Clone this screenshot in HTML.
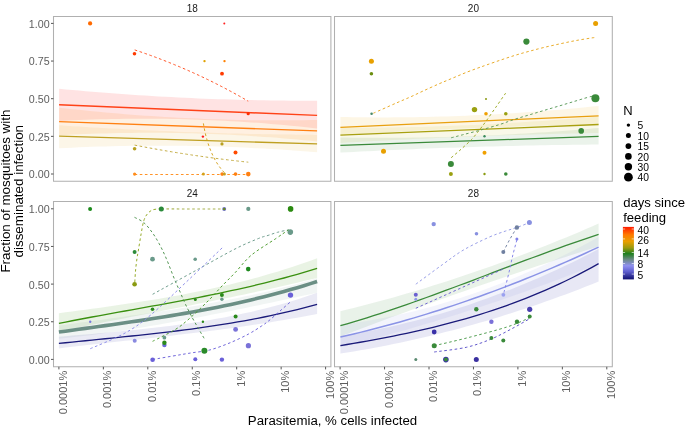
<!DOCTYPE html>
<html><head><meta charset="utf-8"><style>
html,body{margin:0;padding:0;background:#fff;width:685px;height:427px;overflow:hidden}
svg{display:block;filter:blur(0.25px)}
text{font-family:"Liberation Sans", sans-serif}
</style></head><body>
<svg width="685" height="427" viewBox="0 0 685 427">
<rect width="685" height="427" fill="#fff"/>
<polygon points="58.90,313.18 65.52,312.31 72.14,311.44 78.76,310.57 85.38,309.69 92.00,308.79 98.62,307.89 105.24,306.97 111.86,306.03 118.48,305.08 125.11,304.11 131.73,303.12 138.35,302.10 144.97,301.05 151.59,299.98 158.21,298.88 164.83,297.75 171.45,296.58 178.07,295.38 184.69,294.13 191.31,292.85 197.93,291.53 204.55,290.16 211.17,288.75 217.79,287.29 224.41,285.77 231.03,284.21 237.65,282.59 244.27,280.92 250.89,279.19 257.52,277.40 264.14,275.54 270.76,273.62 277.38,271.64 284.00,269.59 290.62,267.46 297.24,265.27 303.86,263.00 310.48,260.66 317.10,258.23 317.10,277.90 310.48,279.51 303.86,281.10 297.24,282.66 290.62,284.20 284.00,285.72 277.38,287.21 270.76,288.69 264.14,290.14 257.52,291.58 250.89,293.00 244.27,294.40 237.65,295.79 231.03,297.16 224.41,298.52 217.79,299.87 211.17,301.21 204.55,302.54 197.93,303.86 191.31,305.17 184.69,306.48 178.07,307.78 171.45,309.08 164.83,310.37 158.21,311.67 151.59,312.96 144.97,314.25 138.35,315.55 131.73,316.85 125.11,318.15 118.48,319.46 111.86,320.77 105.24,322.09 98.62,323.42 92.00,324.76 85.38,326.11 78.76,327.47 72.14,328.84 65.52,330.23 58.90,331.63" fill="#4a9a20" fill-opacity="0.12"/>
<polygon points="58.90,325.57 65.52,324.66 72.14,323.75 78.76,322.85 85.38,321.96 92.00,321.06 98.62,320.17 105.24,319.27 111.86,318.37 118.48,317.46 125.11,316.54 131.73,315.62 138.35,314.68 144.97,313.73 151.59,312.76 158.21,311.78 164.83,310.77 171.45,309.75 178.07,308.70 184.69,307.63 191.31,306.53 197.93,305.41 204.55,304.25 211.17,303.06 217.79,301.84 224.41,300.58 231.03,299.29 237.65,297.95 244.27,296.58 250.89,295.16 257.52,293.70 264.14,292.19 270.76,290.63 277.38,289.02 284.00,287.36 290.62,285.65 297.24,283.88 303.86,282.05 310.48,280.16 317.10,278.21 317.10,292.77 310.48,294.19 303.86,295.60 297.24,297.02 290.62,298.43 284.00,299.84 277.38,301.24 270.76,302.64 264.14,304.04 257.52,305.42 250.89,306.80 244.27,308.17 237.65,309.53 231.03,310.88 224.41,312.22 217.79,313.54 211.17,314.85 204.55,316.15 197.93,317.43 191.31,318.69 184.69,319.93 178.07,321.16 171.45,322.36 164.83,323.55 158.21,324.71 151.59,325.85 144.97,326.96 138.35,328.05 131.73,329.11 125.11,330.15 118.48,331.15 111.86,332.13 105.24,333.08 98.62,333.99 92.00,334.88 85.38,335.73 78.76,336.55 72.14,337.33 65.52,338.07 58.90,338.78" fill="#7a9a90" fill-opacity="0.1"/>
<polygon points="58.90,336.77 65.52,336.19 72.14,335.62 78.76,335.05 85.38,334.48 92.00,333.91 98.62,333.33 105.24,332.73 111.86,332.13 118.48,331.51 125.11,330.87 131.73,330.21 138.35,329.53 144.97,328.83 151.59,328.09 158.21,327.33 164.83,326.53 171.45,325.69 178.07,324.82 184.69,323.90 191.31,322.94 197.93,321.94 204.55,320.88 211.17,319.78 217.79,318.61 224.41,317.39 231.03,316.11 237.65,314.77 244.27,313.36 250.89,311.89 257.52,310.34 264.14,308.72 270.76,307.03 277.38,305.25 284.00,303.40 290.62,301.46 297.24,299.43 303.86,297.32 310.48,295.11 317.10,292.81 317.10,313.90 310.48,315.19 303.86,316.45 297.24,317.67 290.62,318.85 284.00,320.00 277.38,321.12 270.76,322.21 264.14,323.26 257.52,324.29 250.89,325.29 244.27,326.26 237.65,327.21 231.03,328.14 224.41,329.04 217.79,329.93 211.17,330.79 204.55,331.64 197.93,332.47 191.31,333.28 184.69,334.08 178.07,334.87 171.45,335.64 164.83,336.41 158.21,337.17 151.59,337.92 144.97,338.66 138.35,339.40 131.73,340.13 125.11,340.87 118.48,341.60 111.86,342.33 105.24,343.07 98.62,343.81 92.00,344.55 85.38,345.30 78.76,346.05 72.14,346.82 65.52,347.59 58.90,348.38" fill="#5050b0" fill-opacity="0.12"/>
<path d="M58.90,323.34 L65.52,322.03 L72.14,320.75 L78.76,319.49 L85.38,318.24 L92.00,317.01 L98.62,315.79 L105.24,314.58 L111.86,313.38 L118.48,312.19 L125.11,311.00 L131.73,309.81 L138.35,308.62 L144.97,307.43 L151.59,306.23 L158.21,305.03 L164.83,303.82 L171.45,302.60 L178.07,301.36 L184.69,300.11 L191.31,298.84 L197.93,297.55 L204.55,296.24 L211.17,294.90 L217.79,293.54 L224.41,292.15 L231.03,290.73 L237.65,289.28 L244.27,287.79 L250.89,286.26 L257.52,284.70 L264.14,283.09 L270.76,281.44 L277.38,279.74 L284.00,278.00 L290.62,276.20 L297.24,274.35 L303.86,272.45 L310.48,270.49 L317.10,268.47" fill="none" stroke="#3a9010" stroke-width="1.3"/>
<path d="M58.90,332.09 L65.52,331.16 L72.14,330.24 L78.76,329.32 L85.38,328.40 L92.00,327.48 L98.62,326.56 L105.24,325.63 L111.86,324.69 L118.48,323.75 L125.11,322.80 L131.73,321.83 L138.35,320.85 L144.97,319.85 L151.59,318.83 L158.21,317.79 L164.83,316.73 L171.45,315.64 L178.07,314.53 L184.69,313.39 L191.31,312.22 L197.93,311.01 L204.55,309.77 L211.17,308.50 L217.79,307.18 L224.41,305.83 L231.03,304.43 L237.65,302.98 L244.27,301.49 L250.89,299.96 L257.52,298.37 L264.14,296.73 L270.76,295.03 L277.38,293.28 L284.00,291.47 L290.62,289.59 L297.24,287.66 L303.86,285.66 L310.48,283.60 L317.10,281.46" fill="none" stroke="#6b8f85" stroke-width="3.6"/>
<path d="M58.90,343.44 L65.52,342.75 L72.14,342.07 L78.76,341.40 L85.38,340.73 L92.00,340.06 L98.62,339.40 L105.24,338.73 L111.86,338.07 L118.48,337.39 L125.11,336.71 L131.73,336.02 L138.35,335.32 L144.97,334.60 L151.59,333.87 L158.21,333.12 L164.83,332.35 L171.45,331.56 L178.07,330.74 L184.69,329.90 L191.31,329.03 L197.93,328.13 L204.55,327.20 L211.17,326.23 L217.79,325.23 L224.41,324.19 L231.03,323.10 L237.65,321.98 L244.27,320.81 L250.89,319.59 L257.52,318.32 L264.14,317.00 L270.76,315.63 L277.38,314.21 L284.00,312.72 L290.62,311.18 L297.24,309.58 L303.86,307.91 L310.48,306.18 L317.10,304.38" fill="none" stroke="#1a1a7a" stroke-width="1.3"/>
<path d="M134.80,282.00 C134.93,280.00 135.23,273.95 135.60,270.00 C135.97,266.05 136.57,261.40 137.00,258.30 C137.43,255.20 137.55,255.27 138.20,251.40 C138.85,247.53 139.98,240.15 140.90,235.10 C141.82,230.05 142.65,224.60 143.70,221.10 C144.75,217.60 145.80,215.93 147.20,214.10 C148.60,212.27 150.23,210.97 152.10,210.10 C153.97,209.23 156.87,209.10 158.40,208.90 C159.93,208.70 160.82,208.90 161.30,208.90" fill="none" stroke="#8fa61e" stroke-width="0.95" stroke-dasharray="2.6 2.55"/>
<path d="M161.3,208.9 L224.2,209" fill="none" stroke="#c5cc8a" stroke-width="1.6" stroke-dasharray="2.6 2.55"/>
<path d="M134.50,217.30 C136.03,218.17 140.77,220.00 143.70,222.50 C146.63,225.00 149.53,228.78 152.10,232.30 C154.67,235.82 156.75,239.27 159.10,243.60 C161.45,247.93 163.62,252.32 166.20,258.30 C168.78,264.28 172.27,273.85 174.60,279.50 C176.93,285.15 178.45,288.20 180.20,292.20 C181.95,296.20 183.15,299.37 185.10,303.50 C187.05,307.63 189.65,312.78 191.90,317.00 C194.15,321.22 196.50,325.13 198.60,328.80 C200.70,332.47 203.52,337.30 204.50,339.00" fill="none" stroke="#4a8f4a" stroke-width="0.95" stroke-dasharray="2.6 2.55"/>
<path d="M152.60,294.30 C159.50,290.50 180.27,279.05 194.00,271.50 C207.73,263.95 224.22,254.52 235.00,249.00 C245.78,243.48 253.18,240.67 258.70,238.40 C264.22,236.13 264.97,236.42 268.10,235.40 C271.23,234.38 274.10,233.23 277.50,232.30 C280.90,231.37 286.67,230.22 288.50,229.80" fill="none" stroke="#6a9a8a" stroke-width="0.95" stroke-dasharray="2.6 2.55"/>
<path d="M90.30,348.70 C95.92,346.18 114.05,339.12 124.00,333.60 C133.95,328.08 139.00,324.78 150.00,315.60 C161.00,306.42 177.73,290.02 190.00,278.50 C202.27,266.98 218.00,251.83 223.60,246.50" fill="none" stroke="#8a8ae8" stroke-width="0.95" stroke-dasharray="2.6 2.55"/>
<path d="M152.60,341.30 C156.33,339.37 169.13,333.25 175.00,329.70 C180.87,326.15 183.30,323.80 187.80,320.00 C192.30,316.20 197.95,310.77 202.00,306.90 C206.05,303.03 208.77,300.28 212.10,296.80 C215.43,293.32 218.18,290.00 222.00,286.00 C225.82,282.00 230.12,277.93 235.00,272.80 C239.88,267.67 244.50,260.90 251.30,255.20 C258.10,249.50 269.60,242.83 275.80,238.60 C282.00,234.37 286.38,231.27 288.50,229.80" fill="none" stroke="#4a9a2a" stroke-width="0.95" stroke-dasharray="2.6 2.55"/>
<path d="M152.60,359.50 C156.97,358.75 172.25,356.12 178.80,355.00 C185.35,353.88 186.70,353.65 191.90,352.80 C197.10,351.95 203.65,351.57 210.00,349.90 C216.35,348.23 223.60,345.43 230.00,342.80 C236.40,340.17 243.18,336.87 248.40,334.10 C253.62,331.33 257.87,328.45 261.30,326.20 C264.73,323.95 265.88,323.13 269.00,320.60 C272.12,318.07 276.42,314.13 280.00,311.00 C283.58,307.87 288.75,303.33 290.50,301.80" fill="none" stroke="#6a60d8" stroke-width="0.95" stroke-dasharray="2.6 2.55"/>
<circle cx="90.1" cy="208.9" r="2.0" fill="#1a8a1a"/>
<circle cx="161.3" cy="208.9" r="2.5" fill="#2a8a3a"/>
<circle cx="224.2" cy="209" r="2.0" fill="#7070d0"/>
<circle cx="224.2" cy="209" r="1.3" fill="#6a8a20"/>
<circle cx="248.3" cy="208.9" r="2.1" fill="#6a9a8a"/>
<circle cx="290.6" cy="208.9" r="2.8" fill="#2a8a10"/>
<circle cx="290.3" cy="232.1" r="2.8" fill="#6a9a8a"/>
<circle cx="134.6" cy="251.9" r="2.0" fill="#2e8b3a"/>
<circle cx="152.5" cy="259.2" r="2.4" fill="#6a9a8a"/>
<circle cx="195.2" cy="259.3" r="1.8" fill="#6a9a8a"/>
<circle cx="248.2" cy="269.1" r="2.3" fill="#1e8a1e"/>
<circle cx="134.6" cy="284.2" r="2.3" fill="#8a9a10"/>
<circle cx="90.2" cy="321.8" r="1.2" fill="#7a7ae0"/>
<circle cx="134.7" cy="340.7" r="2.0" fill="#8a8ae0"/>
<circle cx="152.5" cy="309.2" r="1.8" fill="#2a8a1a"/>
<circle cx="164.4" cy="345.1" r="2.2" fill="#6a6ad8"/>
<circle cx="164.4" cy="337.7" r="1.9" fill="#6a9a8a"/>
<circle cx="164.4" cy="342.8" r="2.2" fill="#2a8a1a"/>
<circle cx="152.6" cy="359.7" r="2.3" fill="#6a60d8"/>
<circle cx="195.3" cy="299.5" r="1.5" fill="#2a8a1a"/>
<circle cx="202.9" cy="321.7" r="1.2" fill="#2a8a1a"/>
<circle cx="204.4" cy="350.8" r="3.0" fill="#2a8a2a"/>
<circle cx="195.3" cy="359.3" r="2.0" fill="#6a60d8"/>
<circle cx="221.9" cy="294.9" r="2.0" fill="#2a8a1a"/>
<circle cx="221.9" cy="299.3" r="1.7" fill="#6a9a8a"/>
<circle cx="235.6" cy="316.5" r="2.0" fill="#2a8a1a"/>
<circle cx="235.6" cy="329.4" r="2.4" fill="#7a72d8"/>
<circle cx="248.4" cy="345.7" r="2.6" fill="#7a72d8"/>
<circle cx="290.5" cy="295.1" r="2.7" fill="#6a60d8"/>
<circle cx="221.9" cy="359.6" r="2.2" fill="#6a60d8"/>
<polygon points="340.40,311.22 347.02,309.61 353.64,307.96 360.26,306.28 366.88,304.56 373.50,302.82 380.12,301.04 386.74,299.22 393.36,297.38 399.98,295.50 406.61,293.58 413.23,291.64 419.85,289.66 426.47,287.64 433.09,285.59 439.71,283.51 446.33,281.40 452.95,279.25 459.57,277.07 466.19,274.86 472.81,272.61 479.43,270.33 486.05,268.02 492.67,265.67 499.29,263.29 505.91,260.88 512.53,258.43 519.15,255.95 525.77,253.44 532.39,250.89 539.02,248.31 545.64,245.70 552.26,243.05 558.88,240.37 565.50,237.65 572.12,234.91 578.74,232.13 585.36,229.31 591.98,226.47 598.60,223.59 598.60,246.29 591.98,248.39 585.36,250.50 578.74,252.63 572.12,254.77 565.50,256.91 558.88,259.07 552.26,261.24 545.64,263.42 539.02,265.61 532.39,267.81 525.77,270.02 519.15,272.25 512.53,274.48 505.91,276.73 499.29,278.98 492.67,281.25 486.05,283.53 479.43,285.82 472.81,288.12 466.19,290.43 459.57,292.76 452.95,295.09 446.33,297.43 439.71,299.79 433.09,302.16 426.47,304.53 419.85,306.92 413.23,309.32 406.61,311.73 399.98,314.16 393.36,316.59 386.74,319.03 380.12,321.49 373.50,323.95 366.88,326.43 360.26,328.92 353.64,331.42 347.02,333.93 340.40,336.45" fill="#3a8a3a" fill-opacity="0.11"/>
<polygon points="340.40,324.90 347.02,324.03 353.64,323.10 360.26,322.09 366.88,321.00 373.50,319.85 380.12,318.62 386.74,317.32 393.36,315.94 399.98,314.49 406.61,312.97 413.23,311.38 419.85,309.71 426.47,307.97 433.09,306.15 439.71,304.27 446.33,302.31 452.95,300.27 459.57,298.17 466.19,295.99 472.81,293.74 479.43,291.41 486.05,289.01 492.67,286.54 499.29,283.99 505.91,281.38 512.53,278.69 519.15,275.92 525.77,273.08 532.39,270.17 539.02,267.19 545.64,264.13 552.26,261.01 558.88,257.80 565.50,254.53 572.12,251.18 578.74,247.76 585.36,244.26 591.98,240.69 598.60,237.05 598.60,263.76 591.98,266.41 585.36,269.02 578.74,271.62 572.12,274.18 565.50,276.72 558.88,279.23 552.26,281.71 545.64,284.17 539.02,286.60 532.39,289.01 525.77,291.38 519.15,293.73 512.53,296.06 505.91,298.36 499.29,300.63 492.67,302.87 486.05,305.09 479.43,307.28 472.81,309.45 466.19,311.59 459.57,313.70 452.95,315.78 446.33,317.84 439.71,319.87 433.09,321.88 426.47,323.86 419.85,325.81 413.23,327.73 406.61,329.63 399.98,331.50 393.36,333.35 386.74,335.17 380.12,336.96 373.50,338.73 366.88,340.47 360.26,342.18 353.64,343.86 347.02,345.52 340.40,347.16" fill="#8890e0" fill-opacity="0.1"/>
<polygon points="340.40,335.95 347.02,334.93 353.64,333.84 360.26,332.68 366.88,331.47 373.50,330.19 380.12,328.84 386.74,327.44 393.36,325.97 399.98,324.44 406.61,322.84 413.23,321.18 419.85,319.46 426.47,317.67 433.09,315.83 439.71,313.91 446.33,311.94 452.95,309.90 459.57,307.80 466.19,305.64 472.81,303.41 479.43,301.12 486.05,298.76 492.67,296.35 499.29,293.86 505.91,291.32 512.53,288.71 519.15,286.04 525.77,283.31 532.39,280.51 539.02,277.65 545.64,274.73 552.26,271.74 558.88,268.69 565.50,265.58 572.12,262.41 578.74,259.17 585.36,255.86 591.98,252.50 598.60,249.07 598.60,281.56 591.98,284.22 585.36,286.83 578.74,289.40 572.12,291.92 565.50,294.41 558.88,296.85 552.26,299.25 545.64,301.61 539.02,303.92 532.39,306.19 525.77,308.42 519.15,310.61 512.53,312.76 505.91,314.86 499.29,316.92 492.67,318.93 486.05,320.91 479.43,322.84 472.81,324.73 466.19,326.57 459.57,328.38 452.95,330.14 446.33,331.86 439.71,333.53 433.09,335.17 426.47,336.76 419.85,338.30 413.23,339.81 406.61,341.27 399.98,342.69 393.36,344.07 386.74,345.41 380.12,346.70 373.50,347.95 366.88,349.16 360.26,350.32 353.64,351.44 347.02,352.52 340.40,353.56" fill="#5050b0" fill-opacity="0.13"/>
<path d="M340.40,325.67 L347.02,323.78 L353.64,321.83 L360.26,319.83 L366.88,317.78 L373.50,315.68 L380.12,313.54 L386.74,311.35 L393.36,309.13 L399.98,306.87 L406.61,304.57 L413.23,302.24 L419.85,299.89 L426.47,297.50 L433.09,295.09 L439.71,292.66 L446.33,290.21 L452.95,287.75 L459.57,285.26 L466.19,282.77 L472.81,280.27 L479.43,277.76 L486.05,275.25 L492.67,272.73 L499.29,270.22 L505.91,267.71 L512.53,265.21 L519.15,262.71 L525.77,260.23 L532.39,257.76 L539.02,255.30 L545.64,252.86 L552.26,250.45 L558.88,248.06 L565.50,245.70 L572.12,243.36 L578.74,241.06 L585.36,238.79 L591.98,236.55 L598.60,234.36" fill="none" stroke="#3a8a3a" stroke-width="1.3"/>
<path d="M340.40,336.98 L347.02,335.49 L353.64,333.95 L360.26,332.36 L366.88,330.73 L373.50,329.06 L380.12,327.34 L386.74,325.58 L393.36,323.78 L399.98,321.94 L406.61,320.05 L413.23,318.11 L419.85,316.14 L426.47,314.12 L433.09,312.06 L439.71,309.96 L446.33,307.81 L452.95,305.63 L459.57,303.40 L466.19,301.13 L472.81,298.81 L479.43,296.46 L486.05,294.06 L492.67,291.62 L499.29,289.15 L505.91,286.63 L512.53,284.06 L519.15,281.46 L525.77,278.82 L532.39,276.14 L539.02,273.41 L545.64,270.65 L552.26,267.84 L558.88,265.00 L565.50,262.11 L572.12,259.19 L578.74,256.22 L585.36,253.22 L591.98,250.17 L598.60,247.09" fill="none" stroke="#8a93e6" stroke-width="1.5"/>
<path d="M340.40,345.61 L347.02,344.51 L353.64,343.38 L360.26,342.24 L366.88,341.06 L373.50,339.86 L380.12,338.62 L386.74,337.35 L393.36,336.05 L399.98,334.70 L406.61,333.32 L413.23,331.88 L419.85,330.41 L426.47,328.88 L433.09,327.30 L439.71,325.66 L446.33,323.97 L452.95,322.22 L459.57,320.41 L466.19,318.54 L472.81,316.59 L479.43,314.58 L486.05,312.50 L492.67,310.34 L499.29,308.10 L505.91,305.79 L512.53,303.40 L519.15,300.92 L525.77,298.35 L532.39,295.69 L539.02,292.95 L545.64,290.11 L552.26,287.17 L558.88,284.13 L565.50,280.99 L572.12,277.75 L578.74,274.40 L585.36,270.94 L591.98,267.37 L598.60,263.69" fill="none" stroke="#1a1a7a" stroke-width="1.3"/>
<path d="M415.80,284.20 C420.20,280.97 434.28,270.48 442.20,264.80 C450.12,259.12 455.57,254.67 463.30,250.10 C471.03,245.53 481.58,240.57 488.60,237.40 C495.62,234.23 500.68,232.75 505.40,231.10 C510.12,229.45 512.90,228.92 516.90,227.50 C520.90,226.08 527.32,223.42 529.40,222.60" fill="none" stroke="#939ae6" stroke-width="0.95" stroke-dasharray="2.6 2.55"/>
<path d="M503.30,251.90 C504.42,249.75 507.73,243.07 510.00,239.00 C512.27,234.93 515.75,229.42 516.90,227.50" fill="none" stroke="#7080a0" stroke-width="0.95" stroke-dasharray="2.6 2.55"/>
<path d="M516.90,239.90 C516.23,242.38 514.23,249.32 512.90,254.80 C511.57,260.28 510.40,266.48 508.90,272.80 C507.40,279.12 504.73,289.38 503.90,292.70" fill="none" stroke="#8080e8" stroke-width="0.95" stroke-dasharray="2.6 2.55"/>
<path d="M415.8,308.3 L503.3,269" fill="none" stroke="#6a60d0" stroke-width="0.95" stroke-dasharray="2.6 2.55"/>
<path d="M434.20,345.70 C439.55,344.43 454.13,341.23 466.30,338.10 C478.47,334.97 496.63,330.30 507.20,326.90 C517.77,323.50 525.95,319.23 529.70,317.70" fill="none" stroke="#4a9a4a" stroke-width="0.95" stroke-dasharray="2.6 2.55"/>
<path d="M434.20,352.00 C439.55,351.22 456.87,349.43 466.30,347.30 C475.73,345.17 483.30,342.25 490.80,339.20 C498.30,336.15 504.82,332.42 511.30,329.00 C517.78,325.58 526.63,320.42 529.70,318.70" fill="none" stroke="#5a50c8" stroke-width="0.95" stroke-dasharray="2.6 2.55"/>
<circle cx="433.7" cy="224.1" r="2.2" fill="#8890e0"/>
<circle cx="476.5" cy="233.8" r="1.8" fill="#8890e0"/>
<circle cx="516.9" cy="227.5" r="2.2" fill="#7080a0"/>
<circle cx="529.4" cy="222.6" r="2.5" fill="#8890e0"/>
<circle cx="503.3" cy="251.9" r="2.0" fill="#7080a0"/>
<circle cx="516.9" cy="238.9" r="1.5" fill="#8080e8"/>
<circle cx="415.8" cy="294.8" r="2.0" fill="#6a60d0"/>
<circle cx="415.8" cy="299.3" r="1.5" fill="#9098e8"/>
<circle cx="503.4" cy="294.8" r="1.9" fill="#9aa0f0"/>
<circle cx="476.3" cy="309.3" r="2.2" fill="#3a8a3a"/>
<circle cx="529.7" cy="309.3" r="2.6" fill="#4a40b0"/>
<circle cx="529.7" cy="316.5" r="2.0" fill="#3a8a3a"/>
<circle cx="491.4" cy="321.8" r="2.2" fill="#7a70d8"/>
<circle cx="517" cy="321.8" r="2.2" fill="#3a8a3a"/>
<circle cx="434.2" cy="332" r="2.4" fill="#3a30a8"/>
<circle cx="491.4" cy="338.1" r="2.0" fill="#3a8a3a"/>
<circle cx="503.3" cy="340.6" r="2.0" fill="#3a8a3a"/>
<circle cx="434.2" cy="345.7" r="2.5" fill="#3a8a3a"/>
<circle cx="415.8" cy="359.6" r="1.5" fill="#5a8a70"/>
<circle cx="445.9" cy="359.6" r="2.8" fill="#3a30a8"/>
<circle cx="445.9" cy="359.6" r="2.0" fill="#3a8a3a"/>
<circle cx="476.3" cy="359.6" r="2.5" fill="#3a30a0"/>
<polygon points="59.10,88.80 65.72,89.42 72.33,90.03 78.95,90.62 85.56,91.19 92.18,91.75 98.79,92.29 105.41,92.81 112.02,93.32 118.64,93.81 125.25,94.28 131.87,94.74 138.48,95.18 145.10,95.60 151.72,96.01 158.33,96.39 164.95,96.77 171.56,97.12 178.18,97.46 184.79,97.78 191.41,98.09 198.02,98.38 204.64,98.65 211.25,98.90 217.87,99.14 224.48,99.36 231.10,99.57 237.72,99.75 244.33,99.93 250.95,100.08 257.56,100.22 264.18,100.34 270.79,100.44 277.41,100.53 284.02,100.60 290.64,100.65 297.25,100.69 303.87,100.71 310.48,100.71 317.10,100.70 317.10,128.40 310.48,127.67 303.87,126.97 297.25,126.30 290.64,125.66 284.02,125.05 277.41,124.46 270.79,123.90 264.18,123.37 257.56,122.87 250.95,122.40 244.33,121.96 237.72,121.54 231.10,121.15 224.48,120.79 217.87,120.46 211.25,120.16 204.64,119.88 198.02,119.64 191.41,119.42 184.79,119.23 178.18,119.07 171.56,118.93 164.95,118.83 158.33,118.75 151.72,118.70 145.10,118.68 138.48,118.69 131.87,118.73 125.25,118.79 118.64,118.89 112.02,119.01 105.41,119.16 98.79,119.34 92.18,119.54 85.56,119.78 78.95,120.04 72.33,120.33 65.72,120.65 59.10,121.00" fill="#ff1a1a" fill-opacity="0.12"/>
<polygon points="59.10,107.70 65.72,108.45 72.33,109.17 78.95,109.87 85.56,110.55 92.18,111.21 98.79,111.84 105.41,112.45 112.02,113.04 118.64,113.61 125.25,114.15 131.87,114.67 138.48,115.16 145.10,115.64 151.72,116.09 158.33,116.52 164.95,116.93 171.56,117.31 178.18,117.67 184.79,118.01 191.41,118.32 198.02,118.62 204.64,118.89 211.25,119.13 217.87,119.36 224.48,119.56 231.10,119.74 237.72,119.90 244.33,120.03 250.95,120.14 257.56,120.23 264.18,120.29 270.79,120.34 277.41,120.36 284.02,120.35 290.64,120.33 297.25,120.28 303.87,120.21 310.48,120.12 317.10,120.00 317.10,141.50 310.48,140.83 303.87,140.18 297.25,139.56 290.64,138.97 284.02,138.41 277.41,137.87 270.79,137.36 264.18,136.88 257.56,136.42 250.95,135.99 244.33,135.59 237.72,135.21 231.10,134.87 224.48,134.54 217.87,134.25 211.25,133.98 204.64,133.74 198.02,133.53 191.41,133.34 184.79,133.19 178.18,133.05 171.56,132.95 164.95,132.87 158.33,132.82 151.72,132.80 145.10,132.80 138.48,132.83 131.87,132.89 125.25,132.97 118.64,133.08 112.02,133.22 105.41,133.39 98.79,133.58 92.18,133.80 85.56,134.04 78.95,134.32 72.33,134.62 65.72,134.95 59.10,135.30" fill="#ff8c1a" fill-opacity="0.13"/>
<polygon points="59.10,125.30 65.72,125.74 72.33,126.16 78.95,126.58 85.56,126.99 92.18,127.38 98.79,127.77 105.41,128.15 112.02,128.51 118.64,128.87 125.25,129.22 131.87,129.55 138.48,129.88 145.10,130.20 151.72,130.50 158.33,130.80 164.95,131.08 171.56,131.36 178.18,131.63 184.79,131.88 191.41,132.13 198.02,132.37 204.64,132.59 211.25,132.81 217.87,133.01 224.48,133.21 231.10,133.40 237.72,133.57 244.33,133.74 250.95,133.89 257.56,134.04 264.18,134.17 270.79,134.30 277.41,134.42 284.02,134.52 290.64,134.62 297.25,134.70 303.87,134.78 310.48,134.84 317.10,134.90 317.10,152.30 310.48,151.75 303.87,151.23 297.25,150.73 290.64,150.25 284.02,149.80 277.41,149.37 270.79,148.96 264.18,148.58 257.56,148.22 250.95,147.89 244.33,147.57 237.72,147.28 231.10,147.02 224.48,146.77 217.87,146.56 211.25,146.36 204.64,146.19 198.02,146.04 191.41,145.91 184.79,145.81 178.18,145.73 171.56,145.67 164.95,145.64 158.33,145.63 151.72,145.65 145.10,145.68 138.48,145.75 131.87,145.83 125.25,145.94 118.64,146.07 112.02,146.22 105.41,146.40 98.79,146.60 92.18,146.83 85.56,147.07 78.95,147.35 72.33,147.64 65.72,147.96 59.10,148.30" fill="#e0b030" fill-opacity="0.11"/>
<path d="M59.1,104.8 L317.1,115.4" fill="none" stroke="#ff4218" stroke-width="1.4" stroke-linecap="butt"/>
<path d="M59.1,121.7 L317.1,130.9" fill="none" stroke="#ff8012" stroke-width="1.3" stroke-linecap="butt"/>
<path d="M59.1,136.2 L317.1,143.9" fill="none" stroke="#bfa022" stroke-width="1.3" stroke-linecap="butt"/>
<path d="M134.7,49.9 Q195,70 248.2,101.2" fill="none" stroke="#ff4a1a" stroke-width="0.95" stroke-dasharray="2.6 2.55"/>
<path d="M134.6,145.1 Q190,156 248.3,162.2" fill="none" stroke="#c0a83a" stroke-width="0.95" stroke-dasharray="2.6 2.55"/>
<path d="M134.6,174.5 L248.3,174.5" fill="none" stroke="#ff8c1a" stroke-width="0.95" stroke-dasharray="2.6 2.55"/>
<path d="M203.4,123.4 C206,140 212,160 224.7,173" fill="none" stroke="#d4a017" stroke-width="0.95" stroke-dasharray="2.6 2.55"/>
<circle cx="90.1" cy="23.4" r="2.1" fill="#ff6a00"/>
<circle cx="134.5" cy="53.7" r="1.8" fill="#ff3a00"/>
<circle cx="224.3" cy="23.6" r="1.0" fill="#ff2020"/>
<circle cx="204.5" cy="61.1" r="1.2" fill="#e0a000"/>
<circle cx="224.5" cy="61.1" r="1.2" fill="#ff8000"/>
<circle cx="222.0" cy="73.7" r="1.9" fill="#ff3a00"/>
<circle cx="248.2" cy="113.7" r="1.6" fill="#ff2a00"/>
<circle cx="202.9" cy="136.6" r="1.2" fill="#ff1a1a"/>
<circle cx="222.0" cy="143.9" r="1.6" fill="#b8a020"/>
<circle cx="235.5" cy="152.6" r="2.0" fill="#ff4a00"/>
<circle cx="134.6" cy="148.8" r="1.8" fill="#b8a020"/>
<circle cx="134.6" cy="174.1" r="1.6" fill="#ff8c1a"/>
<circle cx="203.4" cy="174.1" r="1.5" fill="#d4a017"/>
<circle cx="222.1" cy="174.1" r="1.8" fill="#ff8012"/>
<circle cx="224.4" cy="174.1" r="1.5" fill="#c8a020"/>
<circle cx="235.5" cy="174.1" r="1.8" fill="#ff8012"/>
<circle cx="248.3" cy="174.1" r="2.3" fill="#ff8012"/>
<polygon points="340.40,117.00 347.02,117.12 353.64,117.22 360.26,117.30 366.88,117.36 373.50,117.39 380.12,117.41 386.74,117.40 393.36,117.37 399.98,117.32 406.61,117.25 413.23,117.16 419.85,117.05 426.47,116.91 433.09,116.76 439.71,116.58 446.33,116.38 452.95,116.16 459.57,115.92 466.19,115.65 472.81,115.37 479.43,115.06 486.05,114.74 492.67,114.39 499.29,114.02 505.91,113.62 512.53,113.21 519.15,112.78 525.77,112.32 532.39,111.85 539.02,111.35 545.64,110.83 552.26,110.29 558.88,109.72 565.50,109.14 572.12,108.53 578.74,107.91 585.36,107.26 591.98,106.59 598.60,105.90 598.60,124.50 591.98,124.59 585.36,124.69 578.74,124.80 572.12,124.92 565.50,125.05 558.88,125.20 552.26,125.35 545.64,125.51 539.02,125.68 532.39,125.86 525.77,126.05 519.15,126.25 512.53,126.46 505.91,126.69 499.29,126.92 492.67,127.16 486.05,127.41 479.43,127.67 472.81,127.95 466.19,128.23 459.57,128.52 452.95,128.82 446.33,129.13 439.71,129.46 433.09,129.79 426.47,130.13 419.85,130.48 413.23,130.85 406.61,131.22 399.98,131.60 393.36,131.99 386.74,132.40 380.12,132.81 373.50,133.23 366.88,133.67 360.26,134.11 353.64,134.56 347.02,135.03 340.40,135.50" fill="#f0a800" fill-opacity="0.1"/>
<polygon points="340.40,128.00 347.02,127.99 353.64,127.96 360.26,127.92 366.88,127.87 373.50,127.80 380.12,127.71 386.74,127.61 393.36,127.49 399.98,127.36 406.61,127.22 413.23,127.06 419.85,126.88 426.47,126.69 433.09,126.49 439.71,126.27 446.33,126.03 452.95,125.78 459.57,125.52 466.19,125.24 472.81,124.94 479.43,124.63 486.05,124.31 492.67,123.97 499.29,123.61 505.91,123.24 512.53,122.86 519.15,122.46 525.77,122.05 532.39,121.62 539.02,121.17 545.64,120.71 552.26,120.24 558.88,119.75 565.50,119.25 572.12,118.73 578.74,118.19 585.36,117.64 591.98,117.08 598.60,116.50 598.60,133.00 591.98,133.12 585.36,133.25 578.74,133.38 572.12,133.52 565.50,133.67 558.88,133.82 552.26,133.98 545.64,134.15 539.02,134.33 532.39,134.52 525.77,134.71 519.15,134.91 512.53,135.11 505.91,135.32 499.29,135.54 492.67,135.77 486.05,136.01 479.43,136.25 472.81,136.50 466.19,136.75 459.57,137.02 452.95,137.29 446.33,137.57 439.71,137.85 433.09,138.14 426.47,138.44 419.85,138.75 413.23,139.07 406.61,139.39 399.98,139.72 393.36,140.05 386.74,140.39 380.12,140.75 373.50,141.10 366.88,141.47 360.26,141.84 353.64,142.22 347.02,142.61 340.40,143.00" fill="#c8b820" fill-opacity="0.1"/>
<polygon points="340.40,137.50 347.02,137.60 353.64,137.68 360.26,137.74 366.88,137.78 373.50,137.81 380.12,137.82 386.74,137.81 393.36,137.78 399.98,137.74 406.61,137.67 413.23,137.59 419.85,137.49 426.47,137.37 433.09,137.24 439.71,137.08 446.33,136.91 452.95,136.72 459.57,136.51 466.19,136.29 472.81,136.04 479.43,135.78 486.05,135.50 492.67,135.21 499.29,134.89 505.91,134.56 512.53,134.21 519.15,133.84 525.77,133.45 532.39,133.04 539.02,132.62 545.64,132.18 552.26,131.72 558.88,131.24 565.50,130.75 572.12,130.23 578.74,129.70 585.36,129.15 591.98,128.59 598.60,128.00 598.60,144.50 591.98,144.56 585.36,144.63 578.74,144.71 572.12,144.79 565.50,144.89 558.88,144.99 552.26,145.10 545.64,145.21 539.02,145.34 532.39,145.47 525.77,145.61 519.15,145.75 512.53,145.91 505.91,146.07 499.29,146.24 492.67,146.41 486.05,146.60 479.43,146.79 472.81,146.99 466.19,147.20 459.57,147.41 452.95,147.64 446.33,147.87 439.71,148.11 433.09,148.35 426.47,148.61 419.85,148.87 413.23,149.14 406.61,149.41 399.98,149.70 393.36,149.99 386.74,150.29 380.12,150.60 373.50,150.91 366.88,151.23 360.26,151.56 353.64,151.90 347.02,152.25 340.40,152.60" fill="#3a8a3a" fill-opacity="0.1"/>
<path d="M340.4,127.3 L598.6,115.8" fill="none" stroke="#e8a010" stroke-width="1.3" stroke-linecap="butt"/>
<path d="M340.4,135.2 L598.6,124.5" fill="none" stroke="#a8a010" stroke-width="1.3" stroke-linecap="butt"/>
<path d="M340.4,145.4 L598.6,136.3" fill="none" stroke="#3a8a3a" stroke-width="1.3" stroke-linecap="butt"/>
<path d="M373.40,113.20 C377.18,111.52 389.92,105.82 396.10,103.10 C402.28,100.38 405.82,99.00 410.50,96.90 C415.18,94.80 419.55,92.63 424.20,90.50 C428.85,88.37 434.42,85.85 438.40,84.10 C442.38,82.35 444.93,81.33 448.10,80.00 C451.27,78.67 454.25,77.42 457.40,76.10 C460.55,74.78 463.75,73.38 467.00,72.10 C470.25,70.82 473.67,69.58 476.90,68.40 C480.13,67.22 482.37,66.42 486.40,65.00 C490.43,63.58 496.20,61.55 501.10,59.90 C506.00,58.25 511.07,56.55 515.80,55.10 C520.53,53.65 524.63,52.52 529.50,51.20 C534.37,49.88 539.73,48.47 545.00,47.20 C550.27,45.93 555.90,44.72 561.10,43.60 C566.30,42.48 571.17,41.43 576.20,40.50 C581.23,39.57 588.08,38.50 591.30,38.00 C594.52,37.50 594.80,37.58 595.50,37.50" fill="none" stroke="#e8a820" stroke-width="0.95" stroke-dasharray="2.6 2.55"/>
<path d="M451.20,157.70 C452.83,156.30 457.63,152.32 461.00,149.30 C464.37,146.28 468.40,142.73 471.40,139.60 C474.40,136.47 476.52,133.63 479.00,130.50 C481.48,127.37 483.47,124.72 486.30,120.80 C489.13,116.88 492.78,111.60 496.00,107.00 C499.22,102.40 504.00,95.50 505.60,93.20" fill="none" stroke="#9aa820" stroke-width="0.95" stroke-dasharray="2.6 2.55"/>
<path d="M451.20,137.80 C453.10,137.30 457.78,136.07 462.60,134.80 C467.42,133.53 473.87,131.93 480.10,130.20 C486.33,128.47 494.25,126.22 500.00,124.40 C505.75,122.58 509.73,120.88 514.60,119.30 C519.47,117.72 524.33,116.37 529.20,114.90 C534.07,113.43 538.93,111.95 543.80,110.50 C548.67,109.05 553.53,107.65 558.40,106.20 C563.27,104.75 568.13,103.27 573.00,101.80 C577.87,100.33 584.20,98.37 587.60,97.40 C591.00,96.43 592.43,96.23 593.40,96.00" fill="none" stroke="#5a9a5a" stroke-width="0.95" stroke-dasharray="2.6 2.55"/>
<circle cx="371.4" cy="61.2" r="2.5" fill="#e8a000"/>
<circle cx="371.4" cy="73.8" r="1.8" fill="#6b8e10"/>
<circle cx="595.6" cy="23.6" r="2.5" fill="#e8a000"/>
<circle cx="526.4" cy="41.6" r="3.1" fill="#3a8a3a"/>
<circle cx="595.4" cy="98.2" r="4.0" fill="#3a8a3a"/>
<circle cx="371.6" cy="113.7" r="1.3" fill="#4a8a6a"/>
<circle cx="383.5" cy="151.2" r="2.5" fill="#e8a000"/>
<circle cx="474.5" cy="109.6" r="2.7" fill="#9aa010"/>
<circle cx="486.0" cy="99.0" r="1.0" fill="#8a9a10"/>
<circle cx="486.0" cy="113.7" r="1.8" fill="#f0a000"/>
<circle cx="505.8" cy="113.7" r="1.8" fill="#9aa010"/>
<circle cx="484.5" cy="136.3" r="1.2" fill="#3a8a5a"/>
<circle cx="484.5" cy="152.7" r="2.0" fill="#f0a000"/>
<circle cx="450.9" cy="163.9" r="3.0" fill="#3a8a3a"/>
<circle cx="450.9" cy="174.0" r="2.0" fill="#9aa010"/>
<circle cx="484.5" cy="174.0" r="1.2" fill="#8a9a10"/>
<circle cx="505.8" cy="174.0" r="1.8" fill="#3a8a3a"/>
<circle cx="581.2" cy="130.9" r="2.8" fill="#3a8a3a"/>
<path d="M53.5,16.4 H330.9 V181.3 H53.5 Z" fill="none" stroke="#b0b0b0" stroke-width="1.05"/>
<text x="192.2" y="11.9" font-size="10" fill="#1a1a1a" text-anchor="middle">18</text>
<path d="M334.5,16.4 H612.3 V181.3 H334.5 Z" fill="none" stroke="#b0b0b0" stroke-width="1.05"/>
<text x="473.4" y="11.9" font-size="10" fill="#1a1a1a" text-anchor="middle">20</text>
<path d="M53.5,201.4 H330.9 V366.8 H53.5 Z" fill="none" stroke="#b0b0b0" stroke-width="1.05"/>
<text x="192.2" y="196.9" font-size="10" fill="#1a1a1a" text-anchor="middle">24</text>
<path d="M334.5,201.4 H612.3 V366.8 H334.5 Z" fill="none" stroke="#b0b0b0" stroke-width="1.05"/>
<text x="473.4" y="196.9" font-size="10" fill="#1a1a1a" text-anchor="middle">28</text>
<line x1="51" x2="53.5" y1="23.40" y2="23.40" stroke="#555" stroke-width="1"/>
<text x="49.6" y="27.80" font-size="10.7" fill="#5e5e5e" text-anchor="end">1.00</text>
<line x1="51" x2="53.5" y1="61.05" y2="61.05" stroke="#555" stroke-width="1"/>
<text x="49.6" y="65.45" font-size="10.7" fill="#5e5e5e" text-anchor="end">0.75</text>
<line x1="51" x2="53.5" y1="98.70" y2="98.70" stroke="#555" stroke-width="1"/>
<text x="49.6" y="103.10" font-size="10.7" fill="#5e5e5e" text-anchor="end">0.50</text>
<line x1="51" x2="53.5" y1="136.35" y2="136.35" stroke="#555" stroke-width="1"/>
<text x="49.6" y="140.75" font-size="10.7" fill="#5e5e5e" text-anchor="end">0.25</text>
<line x1="51" x2="53.5" y1="174.00" y2="174.00" stroke="#555" stroke-width="1"/>
<text x="49.6" y="178.40" font-size="10.7" fill="#5e5e5e" text-anchor="end">0.00</text>
<line x1="51" x2="53.5" y1="208.80" y2="208.80" stroke="#555" stroke-width="1"/>
<text x="49.6" y="213.20" font-size="10.7" fill="#5e5e5e" text-anchor="end">1.00</text>
<line x1="51" x2="53.5" y1="246.45" y2="246.45" stroke="#555" stroke-width="1"/>
<text x="49.6" y="250.85" font-size="10.7" fill="#5e5e5e" text-anchor="end">0.75</text>
<line x1="51" x2="53.5" y1="284.10" y2="284.10" stroke="#555" stroke-width="1"/>
<text x="49.6" y="288.50" font-size="10.7" fill="#5e5e5e" text-anchor="end">0.50</text>
<line x1="51" x2="53.5" y1="321.75" y2="321.75" stroke="#555" stroke-width="1"/>
<text x="49.6" y="326.15" font-size="10.7" fill="#5e5e5e" text-anchor="end">0.25</text>
<line x1="51" x2="53.5" y1="359.40" y2="359.40" stroke="#555" stroke-width="1"/>
<text x="49.6" y="363.80" font-size="10.7" fill="#5e5e5e" text-anchor="end">0.00</text>
<line x1="58.90" x2="58.90" y1="366.8" y2="369.4" stroke="#555" stroke-width="1"/>
<text transform="translate(66.90,370.8) rotate(-90)" font-size="11" fill="#5e5e5e" text-anchor="end">0.0001%</text>
<line x1="103.35" x2="103.35" y1="366.8" y2="369.4" stroke="#555" stroke-width="1"/>
<text transform="translate(111.35,370.8) rotate(-90)" font-size="11" fill="#5e5e5e" text-anchor="end">0.001%</text>
<line x1="147.80" x2="147.80" y1="366.8" y2="369.4" stroke="#555" stroke-width="1"/>
<text transform="translate(155.80,370.8) rotate(-90)" font-size="11" fill="#5e5e5e" text-anchor="end">0.01%</text>
<line x1="192.25" x2="192.25" y1="366.8" y2="369.4" stroke="#555" stroke-width="1"/>
<text transform="translate(200.25,370.8) rotate(-90)" font-size="11" fill="#5e5e5e" text-anchor="end">0.1%</text>
<line x1="236.70" x2="236.70" y1="366.8" y2="369.4" stroke="#555" stroke-width="1"/>
<text transform="translate(244.70,370.8) rotate(-90)" font-size="11" fill="#5e5e5e" text-anchor="end">1%</text>
<line x1="281.15" x2="281.15" y1="366.8" y2="369.4" stroke="#555" stroke-width="1"/>
<text transform="translate(289.15,370.8) rotate(-90)" font-size="11" fill="#5e5e5e" text-anchor="end">10%</text>
<line x1="325.60" x2="325.60" y1="366.8" y2="369.4" stroke="#555" stroke-width="1"/>
<text transform="translate(333.60,370.8) rotate(-90)" font-size="11" fill="#5e5e5e" text-anchor="end">100%</text>
<line x1="340.10" x2="340.10" y1="366.8" y2="369.4" stroke="#555" stroke-width="1"/>
<text transform="translate(348.10,370.8) rotate(-90)" font-size="11" fill="#5e5e5e" text-anchor="end">0.0001%</text>
<line x1="384.55" x2="384.55" y1="366.8" y2="369.4" stroke="#555" stroke-width="1"/>
<text transform="translate(392.55,370.8) rotate(-90)" font-size="11" fill="#5e5e5e" text-anchor="end">0.001%</text>
<line x1="429.00" x2="429.00" y1="366.8" y2="369.4" stroke="#555" stroke-width="1"/>
<text transform="translate(437.00,370.8) rotate(-90)" font-size="11" fill="#5e5e5e" text-anchor="end">0.01%</text>
<line x1="473.45" x2="473.45" y1="366.8" y2="369.4" stroke="#555" stroke-width="1"/>
<text transform="translate(481.45,370.8) rotate(-90)" font-size="11" fill="#5e5e5e" text-anchor="end">0.1%</text>
<line x1="517.90" x2="517.90" y1="366.8" y2="369.4" stroke="#555" stroke-width="1"/>
<text transform="translate(525.90,370.8) rotate(-90)" font-size="11" fill="#5e5e5e" text-anchor="end">1%</text>
<line x1="562.35" x2="562.35" y1="366.8" y2="369.4" stroke="#555" stroke-width="1"/>
<text transform="translate(570.35,370.8) rotate(-90)" font-size="11" fill="#5e5e5e" text-anchor="end">10%</text>
<line x1="606.80" x2="606.80" y1="366.8" y2="369.4" stroke="#555" stroke-width="1"/>
<text transform="translate(614.80,370.8) rotate(-90)" font-size="11" fill="#5e5e5e" text-anchor="end">100%</text>
<text x="332.5" y="424.5" font-size="13.25" fill="#000" text-anchor="middle">Parasitemia, % cells infected</text>
<text transform="translate(10.3,191.1) rotate(-90)" font-size="13.4" fill="#000" text-anchor="middle">Fraction of mosquitoes with</text>
<text transform="translate(23.3,191.2) rotate(-90)" font-size="13.4" fill="#000" text-anchor="middle">disseminated infection</text>
<text x="623.3" y="115.0" font-size="13" fill="#000">N</text>
<circle cx="628.4" cy="125.1" r="1.7" fill="#000"/>
<text x="637.6" y="129.2" font-size="10.3" fill="#000">5</text>
<circle cx="628.4" cy="135.5" r="2.5" fill="#000"/>
<text x="637.6" y="139.6" font-size="10.3" fill="#000">10</text>
<circle cx="628.4" cy="146.1" r="2.9" fill="#000"/>
<text x="637.6" y="150.2" font-size="10.3" fill="#000">15</text>
<circle cx="628.4" cy="156.4" r="3.3" fill="#000"/>
<text x="637.6" y="160.5" font-size="10.3" fill="#000">20</text>
<circle cx="628.4" cy="166.8" r="3.7" fill="#000"/>
<text x="637.6" y="170.9" font-size="10.3" fill="#000">30</text>
<circle cx="628.4" cy="177.2" r="4.4" fill="#000"/>
<text x="637.6" y="181.3" font-size="10.3" fill="#000">40</text>
<text x="623.2" y="207.3" font-size="13.1" fill="#000">days since</text>
<text x="623.2" y="221.9" font-size="13.1" fill="#000">feeding</text>
<defs><linearGradient id="cb" x1="0" y1="0" x2="0" y2="1">
<stop offset="0" stop-color="#ff1a00"/>
<stop offset="0.15" stop-color="#ff7a00"/>
<stop offset="0.28" stop-color="#e8a000"/>
<stop offset="0.40" stop-color="#9a9a10"/>
<stop offset="0.51" stop-color="#1e801e"/>
<stop offset="0.62" stop-color="#6a8a84"/>
<stop offset="0.74" stop-color="#9090f0"/>
<stop offset="0.85" stop-color="#6060d0"/>
<stop offset="1" stop-color="#101070"/>
</linearGradient></defs>
<rect x="622.9" y="226.9" width="11" height="52.5" fill="url(#cb)"/>
<line x1="622.9" x2="625.1" y1="229" y2="229" stroke="#fff" stroke-width="0.6"/>
<line x1="631.7" x2="633.9" y1="229" y2="229" stroke="#fff" stroke-width="0.6"/>
<text x="637.6" y="233.7" font-size="10.3" fill="#000">40</text>
<line x1="622.9" x2="625.1" y1="238.9" y2="238.9" stroke="#fff" stroke-width="0.6"/>
<line x1="631.7" x2="633.9" y1="238.9" y2="238.9" stroke="#fff" stroke-width="0.6"/>
<text x="637.6" y="243.6" font-size="10.3" fill="#000">26</text>
<line x1="622.9" x2="625.1" y1="252.5" y2="252.5" stroke="#fff" stroke-width="0.6"/>
<line x1="631.7" x2="633.9" y1="252.5" y2="252.5" stroke="#fff" stroke-width="0.6"/>
<text x="637.6" y="257.2" font-size="10.3" fill="#000">14</text>
<line x1="622.9" x2="625.1" y1="263.5" y2="263.5" stroke="#fff" stroke-width="0.6"/>
<line x1="631.7" x2="633.9" y1="263.5" y2="263.5" stroke="#fff" stroke-width="0.6"/>
<text x="637.6" y="268.2" font-size="10.3" fill="#000">8</text>
<line x1="622.9" x2="625.1" y1="274.1" y2="274.1" stroke="#fff" stroke-width="0.6"/>
<line x1="631.7" x2="633.9" y1="274.1" y2="274.1" stroke="#fff" stroke-width="0.6"/>
<text x="637.6" y="278.8" font-size="10.3" fill="#000">5</text>
</svg>
</body></html>
